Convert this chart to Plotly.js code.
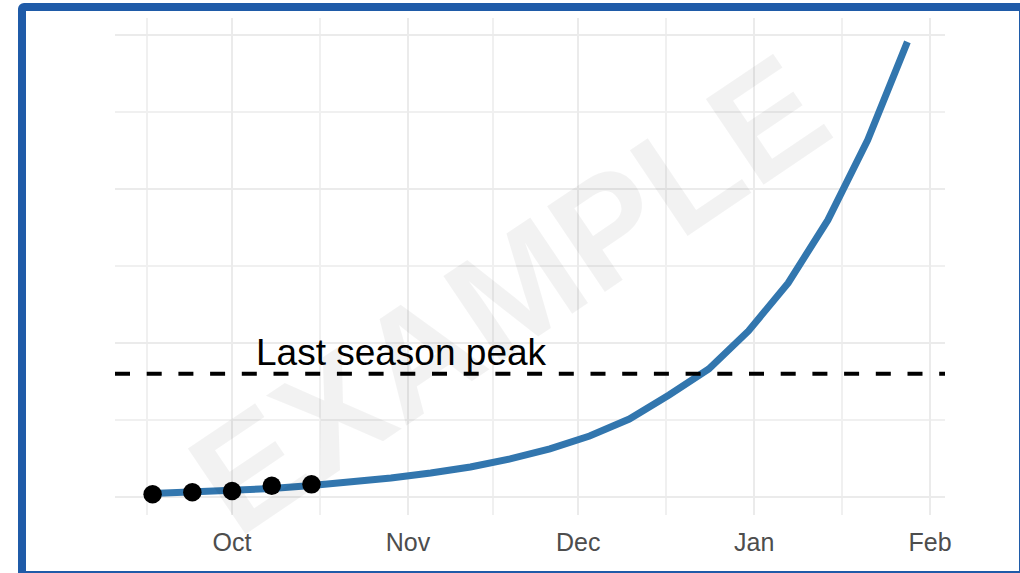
<!DOCTYPE html>
<html>
<head>
<meta charset="utf-8">
<script src="https://cdn.plot.ly/plotly-3.0.1.min.js"></script>
<style>
  html, body { margin: 0; padding: 0; background: #ffffff; }
  #wrap { position: relative; width: 1020px; height: 573px; overflow: hidden; }
  #chart { position: absolute; left: 0; top: 0; width: 1020px; height: 573px; }
  #frame { position: absolute; left: 18px; top: 3px; width: 993px; height: 560px;
           border: 8px solid #1f5ba8; border-radius: 6px; pointer-events: none; z-index: 10; }
</style>
</head>
<body>
<div id="wrap">
  <div id="chart"></div>
  <div id="frame"></div>
</div>
<script>
// Weekly model curve
const weeks = ['2023-09-17','2023-09-24','2023-10-01','2023-10-08','2023-10-15','2023-10-22',
  '2023-10-29','2023-11-05','2023-11-12','2023-11-19','2023-11-26','2023-12-03','2023-12-10',
  '2023-12-17','2023-12-24','2023-12-31','2024-01-07','2024-01-14','2024-01-21','2024-01-28'];
const modelValues = [23, 32, 42, 55, 75, 97, 123, 156, 195, 247, 312, 396, 506, 662, 831,
  1078, 1390, 1799, 2318, 2955];

// Observed points
const obsWeeks = ['2023-09-17','2023-09-24','2023-10-01','2023-10-08','2023-10-15'];
const obsValues = [18, 31, 39, 73, 82];

// Reference level
const lastSeasonPeak = 800;
const peakLabel = 'Last season peak';
const peakLabelDate = '2023-10-05';

// Axis ticks
const monthTicks = ['2023-10-01','2023-11-01','2023-12-01','2024-01-01','2024-02-01'];
const monthLabels = ['Oct','Nov','Dec','Jan','Feb'];
const monthMinor = ['2023-09-16','2023-10-16 12:00','2023-11-16','2023-12-16 12:00','2024-01-16 12:00'];
const yMajor = [0, 1000, 2000, 3000];
const yMinor = [500, 1500, 2500];
const xRange = ['2023-09-10 09:00', '2024-02-03 15:00'];
const yRange = [-117, 3110];
const watermark = 'EXAMPLE';

const traces = [
  {
    x: weeks, y: modelValues, type: 'scatter', mode: 'lines',
    line: { color: '#3276ae', width: 7 }, hoverinfo: 'skip'
  },
  {
    x: obsWeeks, y: obsValues, type: 'scatter', mode: 'markers',
    marker: { color: '#000000', size: 18.5 }, hoverinfo: 'skip'
  }
];

const layout = {
  width: 1020, height: 573,
  margin: { l: 115, r: 75, t: 18, b: 58 },
  paper_bgcolor: '#ffffff', plot_bgcolor: '#ffffff',
  showlegend: false,
  font: { family: 'Liberation Sans, Arial, sans-serif' },
  xaxis: {
    type: 'date', range: xRange,
    tickmode: 'array', tickvals: monthTicks, ticktext: monthLabels,
    showgrid: true, gridcolor: '#ebebeb', gridwidth: 2,
    zeroline: false, showline: false,
    ticks: 'outside', ticklen: 5, tickcolor: 'rgba(0,0,0,0)',
    tickfont: { size: 25, color: '#4d4d4d', family: 'Liberation Sans, Arial, sans-serif' },
    minor: { tickmode: 'array', tickvals: monthMinor, showgrid: true, gridcolor: '#f0f0f0', gridwidth: 1.5 }
  },
  yaxis: {
    range: yRange,
    tickmode: 'array', tickvals: yMajor,
    showticklabels: false,
    showgrid: true, gridcolor: '#ebebeb', gridwidth: 2,
    zeroline: false, showline: false, ticks: '',
    minor: { tickmode: 'array', tickvals: yMinor, showgrid: true, gridcolor: '#f0f0f0', gridwidth: 1.5 }
  },
  shapes: [
    {
      type: 'line', xref: 'paper', x0: 0, x1: 1, yref: 'y', y0: lastSeasonPeak, y1: lastSeasonPeak,
      line: { color: '#000000', width: 3.8, dash: '15px,16.7px' }, layer: 'above'
    }
  ],
  annotations: [
    {
      text: watermark, xref: 'paper', yref: 'paper', x: 0.474, y: 0.445,
      xanchor: 'center', yanchor: 'middle', showarrow: false, textangle: -34,
      font: { family: 'Liberation Sans, Arial, sans-serif', size: 150, color: 'rgba(0,0,0,0.05)', weight: 'bold' }
    },
    {
      text: peakLabel, xref: 'x', yref: 'y', x: peakLabelDate, y: lastSeasonPeak,
      xanchor: 'left', yanchor: 'bottom', showarrow: false, borderpad: 0, yshift: 0,
      font: { family: 'Liberation Sans, Arial, sans-serif', size: 37, color: '#000000' }
    }
  ]
};

Plotly.newPlot('chart', traces, layout, { staticPlot: true, displayModeBar: false });
</script>
</body>
</html>
